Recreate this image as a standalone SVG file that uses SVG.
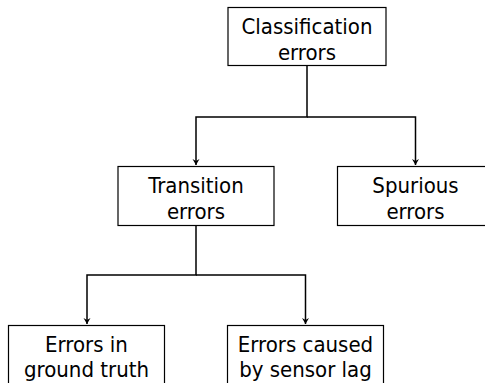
<svg xmlns="http://www.w3.org/2000/svg" width="485" height="383" viewBox="0 0 485 383">
<defs>
<style>
.box{fill:#fff;stroke:#000;stroke-width:1.2}
.t{font-family:"DejaVu Sans Condensed","DejaVu Sans",sans-serif;font-stretch:condensed;font-size:22px;fill:#000;text-anchor:middle}
.c{fill:none;stroke:#000;stroke-width:1.5}
</style>
<marker id="ah" viewBox="0 0 8 8" refX="4" refY="8" markerWidth="8" markerHeight="8" markerUnits="userSpaceOnUse" orient="auto-start-reverse">
<path d="M0,2 L4,8 L8,2 L4,4 Z" fill="#000" transform="rotate(-90 4 4)"/>
</marker>
<marker id="a" viewBox="0 0 8 7" refX="4" refY="7" markerWidth="8" markerHeight="7" markerUnits="userSpaceOnUse" orient="0">
<path d="M0.5,1 L4,7 L7.5,1 L4,3 Z" fill="#000"/>
</marker>
</defs>
<g id="connectors">
<path class="c" d="M307,65 V117 H196 V165" marker-end="url(#a)"/>
<path class="c" d="M307,117 H415.5 V165" marker-end="url(#a)"/>
<path class="c" d="M196,226 V275 H87 V324" marker-end="url(#a)"/>
<path class="c" d="M196,275 H305.5 V324" marker-end="url(#a)"/>
</g>
<g id="n-classification">
<rect class="box" x="228" y="7.5" width="158" height="58"/>
<text class="t" x="307" y="33.5">Classification</text>
<text class="t" x="307" y="59.5">errors</text>
</g>
<g id="n-transition">
<rect class="box" x="118" y="166.5" width="156" height="59"/>
<text class="t" x="196" y="192.5">Transition</text>
<text class="t" x="196" y="218.5">errors</text>
</g>
<g id="n-spurious">
<rect class="box" x="337.5" y="166.5" width="156" height="59"/>
<text class="t" x="415.5" y="192.5">Spurious</text>
<text class="t" x="415.5" y="218.5">errors</text>
</g>
<g id="n-ground">
<rect class="box" x="8.5" y="325.5" width="156" height="70"/>
<text class="t" x="86.5" y="351.5">Errors in</text>
<text class="t" x="86.5" y="377">ground truth</text>
</g>
<g id="n-sensor">
<rect class="box" x="227.5" y="325.5" width="156" height="70"/>
<text class="t" x="305.5" y="351.5">Errors caused</text>
<text class="t" x="305.5" y="377">by sensor lag</text>
</g>
</svg>
